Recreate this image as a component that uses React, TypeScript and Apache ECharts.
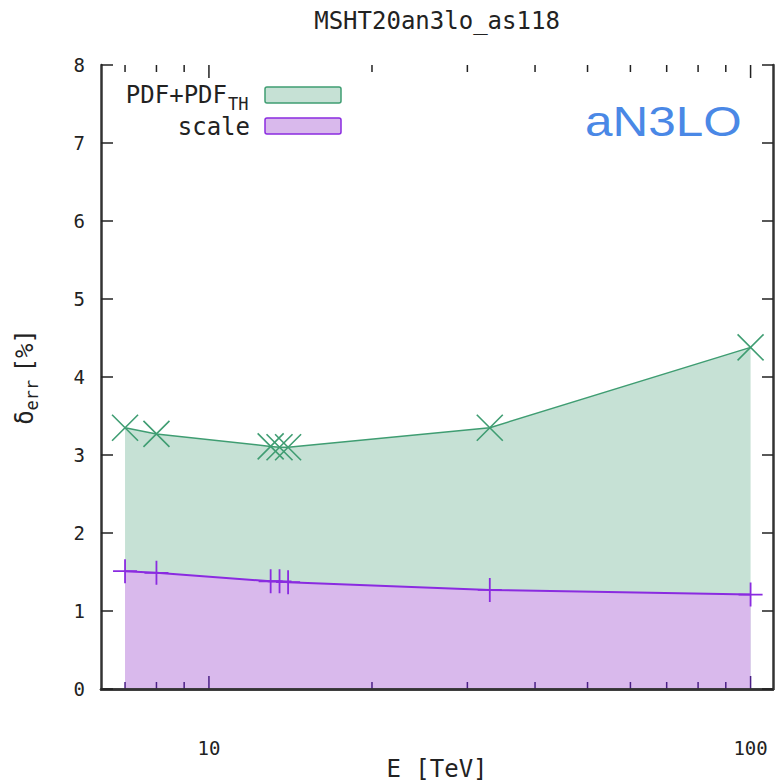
import React, { useEffect, useRef } from "react";
import * as echarts from "echarts";

// ---- data ----
const energies = [7, 8, 13, 13.5, 14, 33, 100];
const pdfErr = [3.35, 3.27, 3.11, 3.1, 3.1, 3.35, 4.38];
const scaleErr = [1.51, 1.49, 1.38, 1.38, 1.37, 1.27, 1.21];
const xMajorTicks = [10, 100];
const xMinorTicks = [7, 8, 9, 20, 30, 40, 50, 60, 70, 80, 90];
const xRange = [6.32, 110];
const yRange = [0, 8];
const titleText = "MSHT20an3lo_as118";
const xAxisTitle = "E [TeV]";
const tagText = "aN3LO";

const MONO = "DejaVu Sans Mono";
const FRAME = "#333333";
const GREEN_LINE = "#3f9d72";
const GREEN_FILL = "#c6e1d5";
const PURPLE_LINE = "#8a2be0";
const PURPLE_FILL = "#d9b9ec";

const X_SYMBOL = "path://M0,0L20,20M20,0L0,20";
const PLUS_SYMBOL = "path://M10,0L10,20M0,10L20,10";

export default function App() {
  const ref = useRef<HTMLDivElement>(null);
  useEffect(() => {
    document.body.style.margin = "0";
    if (!ref.current) return;
    const chart = echarts.init(ref.current, undefined, { renderer: "svg", width: 784, height: 783 });
    const pdfData = energies.map((e, i) => [e, pdfErr[i]]);
    const scaleData = energies.map((e, i) => [e, scaleErr[i]]);
    const tickData = [
      ...xMajorTicks.map((v) => [v, 1]),
      ...xMinorTicks.map((v) => [v, 0]),
    ];
    const frameLine = { show: true, lineStyle: { color: FRAME, width: 2.5 } };
    const option: any = {
      animation: false,
      backgroundColor: "#ffffff",
      grid: {
        left: 101,
        width: 672,
        top: 65,
        height: 624,
        containLabel: false,
        outerBoundsMode: "none",
      },
      xAxis: [
        {
          type: "log",
          logBase: 10,
          min: xRange[0],
          max: xRange[1],
          axisLine: frameLine,
          axisTick: { show: false },
          splitLine: { show: false },
          minorTick: { show: false },
          axisLabel: {
            fontFamily: MONO,
            fontSize: 19,
            color: "#222",
            margin: 49,
            showMinLabel: true,
            showMaxLabel: true,
            formatter: (v: number) =>
              xMajorTicks.some((t) => Math.abs(t - v) < 1e-6) ? String(Math.round(v)) : "",
          },
          z: 8,
        },
        {
          type: "log",
          logBase: 10,
          position: "top",
          min: xRange[0],
          max: xRange[1],
          axisLine: frameLine,
          axisTick: { show: false },
          splitLine: { show: false },
          axisLabel: { show: false },
          z: 8,
        },
      ],
      yAxis: [
        {
          type: "value",
          min: yRange[0],
          max: yRange[1],
          interval: 1,
          name: "{d|δ}{s|err} {d|[%]}",
          nameLocation: "middle",
          nameGap: 61,
          nameTextStyle: {
            fontFamily: MONO,
            color: "#222",
            rich: {
              d: { fontFamily: MONO, fontSize: 24, color: "#222", lineHeight: 30, verticalAlign: "middle" },
              s: { fontFamily: MONO, fontSize: 17, color: "#222", lineHeight: 30, verticalAlign: "bottom" },
            },
          },
          axisLine: frameLine,
          axisTick: { show: true, inside: true, length: 12, lineStyle: { color: "#222", width: 1.5 } },
          splitLine: { show: false },
          axisLabel: {
            fontFamily: MONO,
            fontSize: 19,
            color: "#222",
            margin: 16,
            padding: [8, 0, 0, 0],
          },
          z: 8,
        },
        {
          type: "value",
          position: "right",
          min: yRange[0],
          max: yRange[1],
          interval: 1,
          axisLine: frameLine,
          axisTick: { show: true, inside: true, length: 11, lineStyle: { color: "#222", width: 1.5 } },
          splitLine: { show: false },
          axisLabel: { show: false },
          z: 8,
        },
      ],
      series: [
        {
          name: "PDF+PDF_TH",
          type: "line",
          data: pdfData,
          symbol: X_SYMBOL,
          symbolSize: 26,
          lineStyle: { color: GREEN_LINE, width: 1.5 },
          itemStyle: { color: GREEN_LINE, borderColor: GREEN_LINE, borderWidth: 1.6 },
          areaStyle: { color: GREEN_FILL, opacity: 1 },
          z: 2,
        },
        {
          name: "scale",
          type: "line",
          data: scaleData,
          symbol: PLUS_SYMBOL,
          symbolSize: 24,
          lineStyle: { color: PURPLE_LINE, width: 2 },
          itemStyle: { color: PURPLE_LINE, borderColor: PURPLE_LINE, borderWidth: 1.8 },
          areaStyle: { color: PURPLE_FILL, opacity: 1 },
          z: 3,
        },
        {
          type: "custom",
          coordinateSystem: "cartesian2d",
          silent: true,
          z: 6,
          data: tickData,
          renderItem: (params: any, api: any) => {
            const cs = params.coordSys;
            const x = api.coord([api.value(0), 0])[0];
            const len = api.value(1) ? 13 : 7;
            const bottom = cs.y + cs.height;
            return {
              type: "group",
              children: [
                {
                  type: "line",
                  shape: { x1: x, y1: bottom, x2: x, y2: bottom - len },
                  style: { stroke: "#4a1f86", lineWidth: 1.5 },
                },
                {
                  type: "line",
                  shape: { x1: x, y1: cs.y, x2: x, y2: cs.y + len },
                  style: { stroke: "#222", lineWidth: 1.5 },
                },
              ],
            };
          },
        },
      ],
      graphic: [
        {
          type: "text",
          x: 437,
          y: 21,
          style: {
            text: titleText,
            fontFamily: MONO,
            fontSize: 24,
            fill: "#222",
            align: "center",
            verticalAlign: "middle",
          },
        },
        {
          type: "text",
          x: 437,
          y: 769,
          style: {
            text: xAxisTitle,
            fontFamily: MONO,
            fontSize: 24,
            fill: "#222",
            align: "center",
            verticalAlign: "middle",
          },
        },
        {
          type: "text",
          x: 227,
          y: 95,
          style: {
            text: "PDF+PDF",
            fontFamily: MONO,
            fontSize: 24,
            fill: "#222",
            align: "right",
            verticalAlign: "middle",
          },
        },
        {
          type: "text",
          x: 228,
          y: 104,
          style: {
            text: "TH",
            fontFamily: MONO,
            fontSize: 17,
            fill: "#222",
            align: "left",
            verticalAlign: "middle",
          },
        },
        {
          type: "text",
          x: 250,
          y: 127,
          style: {
            text: "scale",
            fontFamily: MONO,
            fontSize: 24,
            fill: "#222",
            align: "right",
            verticalAlign: "middle",
          },
        },
        {
          type: "rect",
          shape: { x: 265, y: 87, width: 76, height: 16, r: 2 },
          style: { fill: GREEN_FILL, stroke: GREEN_LINE, lineWidth: 1.5 },
        },
        {
          type: "rect",
          shape: { x: 265, y: 118, width: 76, height: 16, r: 2 },
          style: { fill: PURPLE_FILL, stroke: PURPLE_LINE, lineWidth: 1.5 },
        },
        {
          type: "text",
          x: 585,
          y: 121,
          scaleX: 1.15,
          style: {
            text: tagText,
            fontFamily: "Liberation Sans",
            fontSize: 43,
            fill: "#4a88e6",
            align: "left",
            verticalAlign: "middle",
          },
        },
      ],
    };
    chart.setOption(option);
    return () => chart.dispose();
  }, []);
  return <div ref={ref} style={{ width: 784, height: 783 }} />;
}
